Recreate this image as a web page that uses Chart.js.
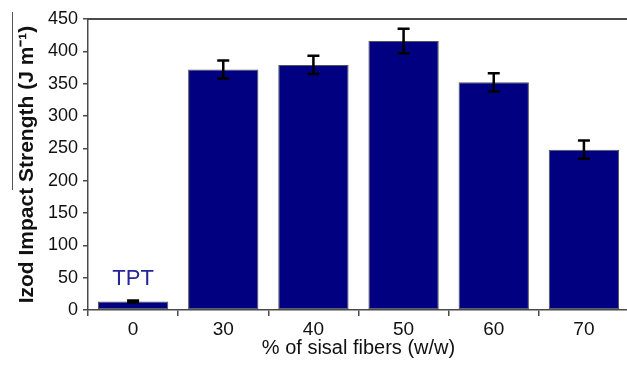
<!DOCTYPE html>
<html>
<head>
<meta charset="utf-8">
<script src="https://cdn.jsdelivr.net/npm/chart.js@4.4.0/dist/chart.umd.min.js"></script>
<style>
  html, body { margin: 0; padding: 0; background: #fff; overflow: hidden; }
  #wrap { width: 650px; height: 368px; }
</style>
</head>
<body>
<div id="wrap"><canvas id="chart"></canvas></div>
<script>
// Данные графика
const fiberLabels = ['0', '30', '40', '50', '60', '70'];
const impactValues = [13, 372, 379, 416, 352, 248];
const impactErrors = [1.5, 14, 14, 19, 14, 14];
const yTicks = [0, 50, 100, 150, 200, 250, 300, 350, 400, 450];
const noteText = 'TPT';
const noteValue = 48;

const FONT = "'Liberation Sans', Arial, sans-serif";

// Рамка сверху, планки погрешностей и подпись TPT
const extrasPlugin = {
    id: 'extras',
    afterDatasetsDraw(chart) {
        const ctx = chart.ctx;
        const x = chart.scales.x;
        const y = chart.scales.y;
        const area = chart.chartArea;

        ctx.save();
        // верхняя линия рамки
        ctx.strokeStyle = '#4a4a4a';
        ctx.lineWidth = 2;
        ctx.beginPath();
        ctx.moveTo(area.left, area.top);
        ctx.lineTo(area.right + 30, area.top);
        ctx.stroke();

        // планки погрешностей
        ctx.strokeStyle = '#000';
        ctx.lineWidth = 2.5;
        impactValues.forEach((v, i) => {
            const cx = x.getPixelForValue(i);
            const top = y.getPixelForValue(v + impactErrors[i]);
            const bot = y.getPixelForValue(v - impactErrors[i]);
            ctx.beginPath();
            ctx.moveTo(cx, top);
            ctx.lineTo(cx, bot);
            ctx.moveTo(cx - 6, top);
            ctx.lineTo(cx + 6, top);
            ctx.moveTo(cx - 6, bot);
            ctx.lineTo(cx + 6, bot);
            ctx.stroke();
        });

        // подпись над первым столбцом
        ctx.fillStyle = '#24249c';
        ctx.font = '22px ' + FONT;
        ctx.textAlign = 'center';
        ctx.textBaseline = 'middle';
        ctx.fillText(noteText, x.getPixelForValue(0), y.getPixelForValue(noteValue));

        // линия у подписи оси Y (как в оригинале)
        ctx.strokeStyle = '#555';
        ctx.lineWidth = 1;
        ctx.beginPath();
        ctx.moveTo(12.5, 12);
        ctx.lineTo(12.5, 190);
        ctx.stroke();
        ctx.restore();
    }
};

const ctx = document.getElementById('chart').getContext('2d');
new Chart(ctx, {
    type: 'bar',
    data: {
        labels: fiberLabels,
        datasets: [{
            data: impactValues,
            backgroundColor: '#000080',
            borderColor: '#555',
            borderWidth: 1,
            borderSkipped: false,
            categoryPercentage: 1.0,
            barPercentage: 0.78
        }]
    },
    options: {
        responsive: true,
        maintainAspectRatio: false,
        animation: false,
        layout: { padding: { top: 19, right: 21, bottom: 0, left: 0 } },
        plugins: {
            legend: { display: false },
            tooltip: { enabled: false }
        },
        scales: {
            x: {
                offset: true,
                grid: {
                    offset: true,
                    drawOnChartArea: false,
                    tickLength: 6,
                    color: '#4a4a4a',
                    lineWidth: 1.5
                },
                border: { display: true, color: '#4a4a4a', width: 1.5 },
                ticks: {
                    color: '#111',
                    padding: 2,
                    font: { family: FONT, size: 19 }
                },
                title: {
                    display: true,
                    text: '% of sisal fibers (w/w)',
                    color: '#111',
                    font: { family: FONT, size: 20 },
                    padding: { top: 0, bottom: 8 }
                },
                afterFit(scale) { scale.height = 58; }
            },
            y: {
                min: 0,
                max: 450,
                afterBuildTicks(scale) {
                    scale.ticks = yTicks.map(v => ({ value: v }));
                },
                grid: {
                    drawOnChartArea: false,
                    tickLength: 5,
                    color: '#4a4a4a',
                    lineWidth: 1.5
                },
                border: { display: true, color: '#4a4a4a', width: 1.5 },
                ticks: {
                    color: '#111',
                    padding: 5,
                    font: { family: FONT, size: 18 }
                },
                title: {
                    display: true,
                    text: 'Izod Impact Strength (J m\u207B\u00B9)',
                    color: '#111',
                    font: { family: FONT, size: 21, weight: 'bold' },
                    padding: { top: 15, bottom: 0 }
                },
                afterFit(scale) { scale.width = 88; }
            }
        }
    },
    plugins: [extrasPlugin]
});
</script>
</body>
</html>
